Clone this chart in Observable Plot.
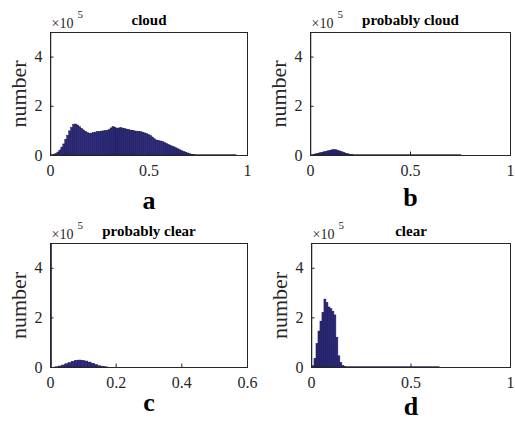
<!DOCTYPE html>
<html><head><meta charset="utf-8">
<script src="https://cdn.jsdelivr.net/npm/d3@7"></script>
<script src="https://cdn.jsdelivr.net/npm/@observablehq/plot@0.6"></script>
<style>
body{margin:0;background:#fff;}
#wrap{position:relative;width:515px;height:422px;background:#fff;}
#wrap svg{position:absolute;}
#wrap svg, #wrap svg text{font-family:"Liberation Serif", "Times New Roman", serif !important;}
</style></head><body><div id="wrap"></div>
<script>
// Titles, panel letters, axis settings
const titles = ["cloud", "probably cloud", "probably clear", "clear"];
const letters = ["a", "b", "c", "d"];
const binWidth = 0.01;
const xMax = [1, 1, 0.6, 1];
const xTicks = [[0, 0.5, 1], [0, 0.5, 1], [0, 0.2, 0.4, 0.6], [0, 0.5, 1]];
const yTicks = [0, 2, 4];

// Histogram counts per 0.01 bin (bin k centred at k*0.01), in units of 1e5.
// The first bin exceeds the axis limit.
const cloud = [
  9, 0.01, 0.03, 0.06, 0.12, 0.20, 0.32, 0.45, 0.62, 0.80,
  0.98, 1.12, 1.24, 1.26, 1.22, 1.15, 1.08, 1.02, 0.96, 0.91,
  0.88, 0.89, 0.91, 0.93, 0.95, 0.96, 0.97, 0.98, 0.99, 1.00,
  1.03, 1.10, 1.15, 1.13, 1.09, 1.10, 1.11, 1.09, 1.07, 1.05,
  1.03, 1.01, 0.99, 0.98, 0.97, 0.96, 0.95, 0.93, 0.90, 0.87,
  0.83, 0.79, 0.73, 0.66, 0.61, 0.59, 0.57, 0.55, 0.51, 0.47,
  0.43, 0.40, 0.36, 0.33, 0.29, 0.25, 0.21, 0.17, 0.14, 0.11,
  0.08, 0.05, 0.03, 0.02, 0.01, 0.01, 0.01, 0.01, 0.01, 0.01,
  0.01, 0.01, 0.01, 0.01, 0.01, 0.01, 0.01, 0.01, 0.01, 0.01,
  0.01, 0.01, 0.01, 0.01, 0.01, 0, 0, 0, 0, 0
];
const probablyCloud = [
  9, 0.01, 0.03, 0.05, 0.07, 0.09, 0.11, 0.13, 0.15, 0.17,
  0.19, 0.21, 0.22, 0.21, 0.19, 0.16, 0.13, 0.10, 0.07, 0.05,
  0.03, 0.02, 0.01, 0.01, 0.01, 0.01, 0.01, 0.01, 0.01, 0.01,
  0.01, 0.01, 0.01, 0.01, 0.01, 0.01, 0.01, 0.01, 0.01, 0.01,
  0.01, 0.01, 0.01, 0.01, 0.01, 0.01, 0.01, 0.01, 0.01, 0.01,
  0.01, 0.01, 0.01, 0.01, 0.01, 0.01, 0.01, 0.01, 0.01, 0.01,
  0.01, 0.01, 0.01, 0.01, 0.01, 0.01, 0.01, 0.01, 0.01, 0.01,
  0.01, 0.01, 0.01, 0.01, 0.01, 0.01, 0, 0, 0, 0,
  0, 0, 0, 0, 0, 0, 0, 0, 0, 0,
  0, 0, 0, 0, 0, 0, 0, 0, 0, 0
];
const probablyClear = [
  9, 0.00, 0.01, 0.04, 0.08, 0.13, 0.18, 0.23, 0.27, 0.28,
  0.27, 0.24, 0.20, 0.15, 0.10, 0.05, 0.02, 0.01, 0, 0,
  0, 0, 0, 0, 0, 0, 0, 0, 0, 0,
  0, 0, 0, 0, 0, 0, 0, 0, 0, 0,
  0, 0, 0, 0, 0, 0, 0, 0, 0, 0,
  0, 0, 0, 0, 0, 0, 0, 0, 0, 0
];
const clear = [
  9, 0.05, 0.35, 0.95, 1.45, 1.85, 2.20, 2.74, 2.60, 2.42,
  2.35, 2.25, 2.10, 1.20, 0.45, 0.18, 0.06, 0.02, 0.01, 0.01,
  0.01, 0.01, 0.01, 0.01, 0.01, 0.01, 0.01, 0.01, 0.01, 0.01,
  0.01, 0.01, 0.01, 0.01, 0.01, 0.01, 0.01, 0.01, 0.01, 0.01,
  0.01, 0.01, 0.01, 0.01, 0.01, 0.01, 0.01, 0.01, 0.01, 0.01,
  0.01, 0.01, 0.01, 0.01, 0.01, 0.01, 0.01, 0.01, 0.01, 0.01,
  0.01, 0.01, 0.01, 0.01, 0.01, 0, 0, 0, 0, 0,
  0, 0, 0, 0, 0, 0, 0, 0, 0, 0,
  0, 0, 0, 0, 0, 0, 0, 0, 0, 0,
  0, 0, 0, 0, 0, 0, 0, 0, 0, 0
];
const series = [cloud, probablyCloud, probablyClear, clear];

// layout (not data)
const pos = [
  {left: 0, top: 0, ml: 50, mr: 10, mb: 56, letterDy: 45},
  {left: 258, top: 0, ml: 52, mr: 5, mb: 56, letterDy: 42},
  {left: 0, top: 211, ml: 50, mr: 10, mb: 55, letterDy: 35},
  {left: 258, top: 211, ml: 53, mr: 5, mb: 55, letterDy: 39}
];
const ink = "#262626";
const serif = "'Liberation Serif', 'Times New Roman', serif";

const wrap = document.getElementById("wrap");
series.forEach((vals, i) => {
  const p = pos[i];
  const bins = vals.map((v, k) => ({x1: (k - 0.5) * binWidth, x2: (k + 0.5) * binWidth, y: v}));
  const svg = Plot.plot({
    width: 257, height: 211,
    marginLeft: p.ml, marginRight: p.mr, marginTop: 32, marginBottom: p.mb,
    style: {fontFamily: serif, fontSize: "16px", color: ink, background: "white", overflow: "visible"},
    x: {domain: [0, xMax[i]], ticks: xTicks[i], tickSize: 0, tickPadding: 9, label: null, tickFormat: d => String(d)},
    y: {domain: [0, 5], ticks: yTicks, tickSize: 0, tickPadding: 8, label: null, tickFormat: d => String(d)},
    marks: [
      Plot.rectY(bins, {x1: "x1", x2: "x2", y: "y", fill: "#2e2b90", stroke: "#17172f", strokeWidth: 0.5, clip: true}),
      Plot.ruleX(xTicks[i], {y1: 0, y2: 0.14, stroke: ink}),
      Plot.ruleY(yTicks, {x1: 0, x2: xMax[i] * 0.018, stroke: ink}),
      Plot.frame({stroke: ink}),
      Plot.text([titles[i]], {text: d => d, frameAnchor: "top", lineAnchor: "middle", textAnchor: "middle", dy: -12.5, fontWeight: "bold", fontSize: 15, fill: "#000"}),
      Plot.text(["×10"], {text: d => d, frameAnchor: "top-left", textAnchor: "start", lineAnchor: "bottom", dy: -5, dx: 1, fontSize: 14, fill: ink}),
      Plot.text(["5"], {text: d => d, frameAnchor: "top-left", textAnchor: "start", lineAnchor: "bottom", dy: -15, dx: 27, fontSize: 11, fill: ink}),
      Plot.text(["number"], {text: d => d, frameAnchor: "left", textAnchor: "middle", lineAnchor: "middle", rotate: -90, dx: -32, fontSize: 22, fill: ink}),
      Plot.text([letters[i]], {text: d => d, frameAnchor: "bottom", textAnchor: "middle", lineAnchor: "middle", dy: p.letterDy, fontWeight: "bold", fontSize: 26, fill: "#000"})
    ]
  });
  svg.style.left = p.left + "px";
  svg.style.top = p.top + "px";
  wrap.appendChild(svg);
});
</script>
</body></html>
